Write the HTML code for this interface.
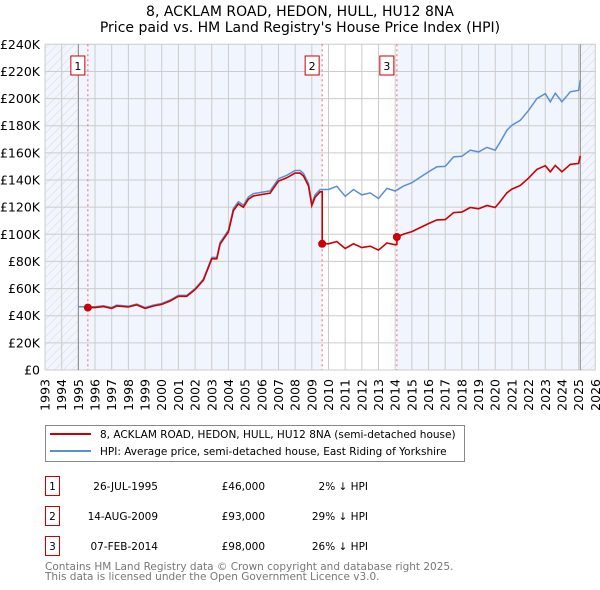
<!DOCTYPE html>
<html><head><meta charset="utf-8"><style>
body{margin:0;background:#fff;font-family:"DejaVu Sans","Liberation Sans",sans-serif;}
#wrap{position:relative;width:600px;height:590px;overflow:hidden;}
svg text{font-family:"DejaVu Sans","Liberation Sans",sans-serif;}
</style></head><body>
<div id="wrap">
<svg id="chart" width="600" height="590"></svg>
</div>
<script>
const hpiYears=[1995,1995.5,1996,1996.5,1997,1997.3,1998,1998.5,1999,1999.5,2000,2000.5,2001,2001.5,2002,2002.5,2003,2003.3,2003.5,2004,2004.3,2004.6,2004.9,2005.2,2005.5,2006,2006.5,2007,2007.5,2008,2008.3,2008.5,2008.8,2009.0,2009.2,2009.5,2010,2010.5,2011,2011.5,2012,2012.5,2013,2013.5,2014,2014.5,2015,2015.5,2016,2016.5,2017,2017.5,2018,2018.5,2019,2019.5,2020,2020.3,2020.7,2021,2021.5,2022,2022.5,2023,2023.3,2023.6,2024,2024.5,2025,2025.1];
const hpiValues=[46.6,46.6,46.6,47.3,46,47.8,47,48.6,46,47.8,49,51.5,55,55,60,67,83,83,94,103,119,124,121.5,127.5,130,131,132,141,143.5,147,147,144.8,137.4,122.7,129,133,133,135.4,128,133,129,130.5,126.4,133.8,131.9,135.5,138,142,146,149.7,150,157,157.5,162,160.7,164,162,168,176.7,180.4,184,191.4,200,203.7,197.6,204,197.6,205,206,213.5];
const saleYears=[1995.57,2009.62,2014.1];
const salePrices=[46,93,98];
const saleLabels=["1","2","3"];
const yTicks=[0,20,40,60,80,100,120,140,160,180,200,220,240];
const xTicks=[];for(let y=1993;y<=2026;y++)xTicks.push(y);

const svg=document.getElementById('chart');const NS='http://www.w3.org/2000/svg';
const X0=45,X1=595.3,Y0=370,Y1=44.3;
const xs=y=>X0+(y-1993)*(X1-X0)/33;
const ys=v=>Y0-(v/240)*(Y0-Y1);
function mk(t,a,p){const e=document.createElementNS(NS,t);for(const k in a)e.setAttribute(k,a[k]);(p||svg).appendChild(e);return e;}
function hpiAt(y){if(y<=hpiYears[0])return hpiValues[0];for(let i=1;i<hpiYears.length;i++){if(y<=hpiYears[i]){const t=(y-hpiYears[i-1])/(hpiYears[i]-hpiYears[i-1]);return hpiValues[i-1]+t*(hpiValues[i]-hpiValues[i-1]);}}return hpiValues[hpiValues.length-1];}

let t=mk('text',{x:300,y:16,'text-anchor':'middle','font-size':'14'});t.textContent='8, ACKLAM ROAD, HEDON, HULL, HU12 8NA';

t=mk('text',{x:300,y:32,'text-anchor':'middle','font-size':'14'});t.textContent="Price paid vs. HM Land Registry's House Price Index (HPI)";


const defs=mk('defs',{});
const pat=mk('pattern',{id:'hatch',width:6,height:6,patternUnits:'userSpaceOnUse',patternTransform:'rotate(45)'},defs);
mk('line',{x1:0,y1:0,x2:0,y2:6,stroke:'#d8d8d8','stroke-width':1},pat);
let r=mk('rect',{x:X0,y:Y1,width:X1-X0,height:Y0-Y1,fill:'#f1f5fd'});

mk('rect',{x:xs(saleYears[1]),y:Y1,width:xs(saleYears[2])-xs(saleYears[1]),height:Y0-Y1,fill:'#fff'});
r=mk('rect',{x:X0,y:Y1,width:xs(1995)-X0,height:Y0-Y1,fill:'url(#hatch)'});

r=mk('rect',{x:xs(2025.1),y:Y1,width:X1-xs(2025.1),height:Y0-Y1,fill:'url(#hatch)'});


yTicks.forEach(v=>{
 const l=mk('line',{x1:X0,x2:X1,y1:ys(v),y2:ys(v),stroke:'#ccc','stroke-width':1});
 
 const tx=mk('text',{x:40,y:ys(v)+4.5,'text-anchor':'end','font-size':'12.5'});tx.textContent='£'+(v===0?'0':v+'K');
 
});
xTicks.forEach(y=>{
 const l=mk('line',{x1:xs(y),x2:xs(y),y1:Y1,y2:Y0,stroke:'#ccc','stroke-width':1});
 
 const tx=mk('text',{x:0,y:0,'text-anchor':'end','font-size':'12.5',transform:`translate(${xs(y)+4.5},379) rotate(-90)`});tx.textContent=y;
 
});
mk('line',{x1:xs(1995),x2:xs(1995),y1:Y1,y2:Y0,stroke:'#888','stroke-width':1});
mk('line',{x1:xs(2025.1),x2:xs(2025.1),y1:Y1,y2:Y0,stroke:'#888','stroke-width':1});

saleYears.forEach((sy,i)=>{
 const l=mk('line',{x1:xs(sy),x2:xs(sy),y1:Y1,y2:Y0,stroke:'#e66','stroke-width':1,'stroke-dasharray':'2,3'});
 
 const g=mk('g',{});
 
 mk('rect',{x:xs(sy)-17,y:56,width:14,height:19,fill:'#fff',stroke:'#c00','stroke-width':1},g);
 const tx=mk('text',{x:xs(sy)-10,y:70,'text-anchor':'middle','font-size':'11'},g);tx.textContent=saleLabels[i];
});

let d='';hpiYears.forEach((y,i)=>{d+=(i?'L':'M')+xs(y).toFixed(1)+','+ys(hpiValues[i]).toFixed(1);});
let p=mk('path',{d:d,fill:'none',stroke:'#5b8fd0','stroke-width':1.5});


const pts=[];
for(let s=0;s<saleYears.length;s++){
 const start=saleYears[s],end=s+1<saleYears.length?saleYears[s+1]:hpiYears[hpiYears.length-1];
 const base=hpiAt(start);
 pts.push([start,salePrices[s]]);
 hpiYears.forEach((y,i)=>{if(y>start&&y<end)pts.push([y,salePrices[s]*hpiValues[i]/base]);});
 pts.push([end,salePrices[s]*hpiAt(end)/base]);
}
d='';pts.forEach((q,i)=>{d+=(i?'L':'M')+xs(q[0]).toFixed(1)+','+ys(q[1]).toFixed(1);});
p=mk('path',{d:d,fill:'none',stroke:'#cc0000','stroke-width':1.6});

saleYears.forEach((sy,i)=>{const c=mk('circle',{cx:xs(sy),cy:ys(salePrices[i]),r:4,fill:'#cc0000'});
 });

const lg=mk('g',{});
mk('rect',{x:45.5,y:425.5,width:419,height:36,fill:'#fff',stroke:'#888'},lg);
mk('line',{x1:50,x2:91,y1:434,y2:434,stroke:'#cc0000','stroke-width':2},lg);
mk('line',{x1:50,x2:91,y1:451,y2:451,stroke:'#5b8fd0','stroke-width':2},lg);
t=mk('text',{x:100,y:438,'font-size':'10.5'},lg);t.textContent='8, ACKLAM ROAD, HEDON, HULL, HU12 8NA (semi-detached house)';

t=mk('text',{x:100,y:455,'font-size':'10.5'},lg);t.textContent='HPI: Average price, semi-detached house, East Riding of Yorkshire';


const dates=['26-JUL-1995','14-AUG-2009','07-FEB-2014'];
const prices=['£46,000','£93,000','£98,000'];
const diffs=['2% ↓ HPI','29% ↓ HPI','26% ↓ HPI'];
dates.forEach((dt,i)=>{
 const yy=476+i*30;
 const g=mk('g',{});
 mk('rect',{x:45.5,y:yy+0.5,width:14,height:19,fill:'#fff',stroke:'#c00'},g);
 let a=mk('text',{x:52.5,y:yy+14,'text-anchor':'middle','font-size':'10.5'},g);a.textContent=saleLabels[i];
 a=mk('text',{x:158,y:yy+14,'text-anchor':'end','font-size':'10.5'},g);a.textContent=dt;
 a=mk('text',{x:265,y:yy+14,'text-anchor':'end','font-size':'10.5'},g);a.textContent=prices[i];
 a=mk('text',{x:368,y:yy+14,'text-anchor':'end','font-size':'10.5'},g);a.textContent=diffs[i];
});
t=mk('text',{x:45,y:570,'font-size':'10.5',fill:'#777'});t.textContent='Contains HM Land Registry data © Crown copyright and database right 2025.';

t=mk('text',{x:45,y:580,'font-size':'10.5',fill:'#777'});t.textContent='This data is licensed under the Open Government Licence v3.0.';

</script>
</body></html>
